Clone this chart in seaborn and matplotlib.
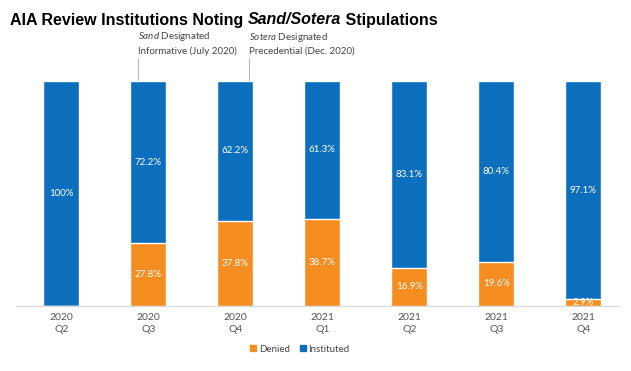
import pandas as pd
import matplotlib.pyplot as plt
import seaborn as sns

quarters = ['2020\nQ2', '2020\nQ3', '2020\nQ4', '2021\nQ1', '2021\nQ2', '2021\nQ3', '2021\nQ4']
denied = [0.0, 27.8, 37.8, 38.7, 16.9, 19.6, 2.9]
instituted = [100.0, 72.2, 62.2, 61.3, 83.1, 80.4, 97.1]
inst_labels = ['100%', '72.2%', '62.2%', '61.3%', '83.1%', '80.4%', '97.1%']

blue = '#0b6fbe'
orange = '#f68d20'
grey = '#555555'

sns.set_style('white')
plt.rcParams['font.family'] = ['Lato', 'DejaVu Sans']
plt.rcParams['mathtext.fontset'] = 'custom'
plt.rcParams['mathtext.it'] = 'Lato:italic'
plt.rcParams['mathtext.rm'] = 'Lato'

df = pd.DataFrame({'quarter': quarters, 'Denied': denied, 'Instituted': instituted})
df['total'] = df['Denied'] + df['Instituted']

fig = plt.figure(figsize=(6.31, 3.71), dpi=100)
ax = fig.add_axes([16 / 631, 1 - 306 / 371, 603 / 631, 225 / 371])

# stacked: draw total in blue, denied on top in orange
sns.barplot(data=df, x='quarter', y='total', color=blue, width=0.41, saturation=1, ax=ax)
sns.barplot(data=df, x='quarter', y='Denied', color=orange, width=0.41, saturation=1, ax=ax)

for i in range(len(quarters)):
    d = denied[i]
    ax.text(i, d + instituted[i] / 2, inst_labels[i], ha='center', va='center',
            color='white', fontsize=7)
    if d > 0:
        ax.text(i, d / 2, f'{d:.1f}%', ha='center', va='center', color='white', fontsize=7)

ax.set_xlim(-0.52, 6.41)
ax.set_ylim(0, 100)
ax.set_yticks([])
ax.set_xlabel('')
ax.set_ylabel('')
for s in ['top', 'left', 'right']:
    ax.spines[s].set_visible(False)
ax.spines['bottom'].set_color('#d9d9d9')
ax.spines['bottom'].set_linewidth(0.8)
ax.tick_params(axis='x', length=0, pad=5, labelsize=7.5, labelcolor=grey)
for t in ax.get_xticklabels():
    t.set_linespacing(1.5)

# annotation lines
for xl in [0.885, 2.16]:
    ax.plot([xl, xl], [100.4, 110.2], color='#bbbbbb', lw=0.8, clip_on=False)
ax.text(0.885, 111.3, r'$\mathit{Sand}$ Designated' + '\nInformative (July 2020)', ha='left', va='bottom',
        fontsize=7, color='#444444', linespacing=1.35)
ax.text(2.16, 111.3, r'$\mathit{Sotera}$ Designated' + '\nPrecedential (Dec. 2020)', ha='left', va='bottom',
        fontsize=7, color='#444444', linespacing=1.35)

# title in three pieces so the case names are italic
title_parts = [('AIA Review Institutions Noting ', 'normal'), ('Sand/Sotera', 'italic'), (' Stipulations', 'normal')]
x0 = 10
r = fig.canvas.get_renderer()
for txt, st in title_parts:
    t = fig.text(x0 / 631, 1 - 20 / 371, txt, fontsize=11.5, fontweight='bold', style=st,
                 family='Liberation Sans', va='center', ha='left', color='black')
    bb = t.get_window_extent(renderer=r)
    x0 += bb.width

handles = [plt.Rectangle((0, 0), 1, 1, color=orange), plt.Rectangle((0, 0), 1, 1, color=blue)]
fig.legend(handles, ['Denied', 'Instituted'], loc='center', bbox_to_anchor=(300 / 631, 1 - 349 / 371),
           ncol=2, frameon=False, fontsize=7, handlelength=0.6, handleheight=0.6,
           handletextpad=0.3, columnspacing=1.0, labelcolor='#444444')

fig.savefig('out.png', dpi=100)
